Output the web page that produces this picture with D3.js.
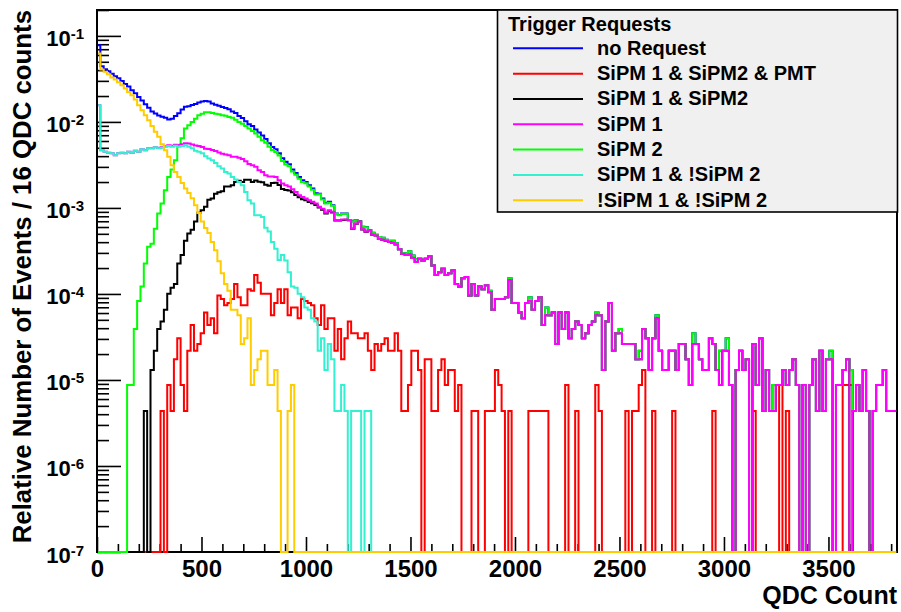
<!DOCTYPE html>
<html><head><meta charset="utf-8">
<script src="https://cdn.jsdelivr.net/npm/d3@7"></script>
<style>
body{margin:0;background:#fff}
svg{display:block}
text{font-family:"Liberation Sans",Arial,Helvetica,sans-serif;font-weight:bold;fill:#000}
</style>
</head><body>
<svg id="chart" width="901" height="612"></svg>
<script>
// ---- data: counts per 16-QDC bin, normalised by the total number of events ----
const binWidth = 16;
const nBins = 239;
const totalEvents = 229400;
const xTickValues = [0, 500, 1000, 1500, 2000, 2500, 3000, 3500];
const yTickExponents = [-1, -2, -3, -4, -5, -6, -7];
const legendTitle = "Trigger Requests";
const seriesLabels = ["no Request", "SiPM 1 & SiPM2 & PMT", "SiPM 1 & SiPM2", "SiPM 1", "SiPM 2", "SiPM 1 & !SiPM 2", "!SiPM 1 & !SiPM 2"];
const seriesColors = ["#0000ff", "#ff0000", "#000000", "#ff00ff", "#00ff00", "#33f0d0", "#ffcc00"];

const noRequest = [
17900,10200,9400,8900,8350,7800,7400,6850,6350,5900,
5350,4950,4480,4060,3680,3350,3030,2880,2720,2630,
2570,2450,2490,2690,2900,3200,3450,3500,3600,3700,
3870,3950,4010,3950,3760,3640,3530,3420,3340,3220,
3040,2910,2680,2540,2340,2160,2060,1870,1730,1590,
1450,1300,1175,1103,990,870,790,740,640,585,
525,481,460,421,385,340,335,295,262,270,
247,197,190,197,197,166,161,165,161,139,
138,127,118,112,105,103,98,95,95,89,
76,68,68,72,64,58,59,56,59,63,
49,38,41,45,38,40,43,30,28,35,
36,22,30,22,28,26,29,25,15,20,
20,20,21,35,18,18,14,12,18,21,
15,19,21,10,16,13,14,6,14,9,
14,7,9,11,10,7,8,10,11,14,
13,3,11,18,5,8,9,6,6,6,
6,4,5,9,7,3,7,13,5,3,
3,5,5,3,6,6,4,2,8,6,
4,3,3,7,6,3,5,5,7,2,
0,3,5,3,4,0,6,2,7,1,
3,1,2,2,2,3,2,3,4,2,
0,2,0,2,4,1,5,1,4,5,
0,2,2,3,4,3,1,2,1,3,
1,0,1,2,2,3,1,1,1];

const sipm12Pmt = [
0,0,0,0,0,0,0,0,0,0,
0,0,0,0,0,0,0,0,0,1,
0,2,1,4,7,2,1,5,10,5,
6,8,14,10,12,8,22,20,17,18,
20,30,21,17,17,26,25,38,31,23,
23,23,13,18,26,18,26,13,16,16,
12,20,19,18,17,12,10,17,9,12,
12,5,9,4,7,11,8,8,7,7,
8,5,3,6,5,6,7,5,5,8,
5,1,1,2,5,5,3,0,4,4,
1,1,3,4,2,3,3,1,2,0,
0,0,1,1,0,0,1,1,1,3,
2,1,0,1,0,0,0,0,0,1,
1,1,1,1,1,0,0,0,0,0,
2,0,0,1,0,0,0,0,0,2,
1,0,0,0,0,0,0,0,1,0,
1,1,2,3,0,0,1,0,0,0,
0,0,1,0,0,0,0,0,0,0,
0,0,0,0,1,0,0,0,0,0,
0,0,0,0,0,0,1,0,0,0,
0,0,0,0,2,0,1,0,0,0,
0,0,0,0,0,0,0,0,0,0,
0,0,0,2,2,2];

const sipm12 = [
0,0,0,0,0,0,0,0,0,0,
0,0,0,0,1,0,3,5,9,11,
15,23,27,30,52,65,95,116,128,160,
201,216,236,286,295,335,350,358,406,406,
421,460,475,460,487,487,460,478,462,455,
428,416,446,449,423,380,370,365,349,324,
305,290,281,268,260,248,232,218,198,210,
203,164,164,166,167,165,131,150,159,129,
121,125,112,110,100,98,95,92,90,86,
76,67,65,66,60,54,59,56,59,63,
49,38,41,45,38,40,43,30,28,35,
36,22,30,22,28,26,29,24,15,20,
20,20,21,33,18,18,14,12,18,19,
15,19,21,10,13,13,14,6,14,9,
14,7,9,11,10,7,8,10,11,13,
13,3,11,18,5,8,8,6,6,6,
6,4,4,9,7,3,7,12,5,3,
3,5,5,3,6,6,4,2,6,6,
4,3,3,7,6,3,2,5,5,2,
0,3,5,3,4,0,6,2,7,1,
3,1,1,2,2,3,2,3,4,2,
0,2,0,2,4,1,5,1,4,4,
0,2,2,3,4,0,1,2,1,3,
1,0,1,2,2,3,1,1,1];

const sipm1 = [
3586,1075,1030,1003,990,940,990,1003,990,1030,
1003,1063,1030,1103,1076,1133,1136,1168,1142,1161,
1198,1226,1210,1245,1235,1261,1300,1290,1255,1220,
1200,1175,1120,1110,1080,1050,1010,980,960,940,
905,900,880,850,800,745,719,690,629,600,
550,533,533,525,481,440,421,406,377,351,
322,308,295,282,270,258,236,225,201,216,
207,165,165,168,168,165,132,151,160,130,
122,126,112,110,100,98,95,92,90,86,
76,67,65,66,60,54,59,56,59,63,
49,38,41,45,38,40,43,30,28,35,
36,22,30,22,28,26,29,24,15,20,
20,20,21,33,18,18,14,12,18,19,
15,19,21,10,13,13,14,6,14,9,
14,7,9,11,10,7,8,10,11,13,
13,3,11,18,5,8,8,6,6,6,
6,4,4,9,7,3,7,12,5,3,
3,5,5,3,6,6,4,2,6,6,
4,3,3,7,6,3,2,5,5,2,
0,3,5,3,4,0,6,2,7,1,
3,1,1,2,2,3,2,3,4,2,
0,2,0,2,4,1,5,1,4,4,
0,2,2,3,4,0,1,2,1,3,
1,0,1,2,2,3,1,1,1];

const sipm2 = [
0,0,0,0,0,0,0,0,0,2,
2,9,19,28,52,81,88,131,197,258,
368,525,640,823,1229,1480,1925,2100,2290,2500,
2744,2860,2980,2980,2920,2860,2818,2744,2700,2620,
2570,2430,2290,2190,2050,1925,1800,1678,1537,1405,
1310,1176,1081,1023,932,805,734,698,610,558,
502,460,444,406,373,329,330,288,259,264,
243,196,189,195,196,166,160,164,160,139,
137,126,118,112,105,103,98,95,95,89,
76,68,68,72,64,58,59,56,59,63,
49,38,41,45,38,40,43,30,28,35,
36,22,30,22,28,26,29,25,15,20,
20,20,21,35,18,18,14,12,18,21,
15,19,21,10,16,13,14,6,14,9,
14,7,9,11,10,7,8,10,11,14,
13,3,11,18,5,8,9,6,6,6,
6,4,5,9,7,3,7,13,5,3,
3,5,5,3,6,6,4,2,8,6,
4,3,3,7,6,3,5,5,7,2,
0,3,5,3,4,0,6,2,7,1,
3,1,2,2,2,3,2,3,4,2,
0,2,0,2,4,1,5,1,4,5,
0,2,2,3,4,3,1,2,1,3,
1,0,1,2,2,3,1,1,1];

const sipm1Not2 = [
3586,1075,1030,1003,990,940,990,1003,990,1030,
1003,1063,1030,1103,1075,1133,1133,1163,1133,1150,
1183,1203,1183,1215,1183,1203,1229,1183,1133,1063,
1030,990,915,862,823,766,700,657,600,575,
525,490,460,421,351,282,258,189,189,180,
135,122,92,77,57,65,56,41,28,27,
23,21,16,15,12,11,5,7,3,6,
4,1,1,2,1,0,1,1,1,0,
1,1,0];

const not1Not2 = [
14320,9350,8760,8225,7530,7130,6640,6125,5600,5120,
4690,4180,3586,3137,2744,2400,2050,1760,1540,1260,
1075,900,719,600,525,448,385,342,297,247,
200,160,134,117,92,74,55,40,30,25,
15,15,13,6,7,12,2,3,4,5,
5,2,2,3,1,0,0,1,2];

// drawing order (first drawn lies underneath)
const drawOrder = [0, 1, 2, 4, 3, 5, 6];
const seriesData = [noRequest, sipm12Pmt, sipm12, sipm1, sipm2, sipm1Not2, not1Not2];

(function () {
  const svg = d3.select("#chart");
  const pL = 97, pR = 897, pT = 10, pB = 552;
  const x = d3.scaleLinear().domain([0, 3828]).range([pL, pR]);
  const y = d3.scaleLog().domain([1e-7, 0.2]).range([pB, pT]);

  svg.append("defs").append("clipPath").attr("id", "plotclip")
    .append("rect").attr("x", pL).attr("y", pT - 1)
    .attr("width", pR - pL + 1).attr("height", pB - pT + 2);

  // frame first (histograms are drawn over it, as in the original)
  svg.append("rect").attr("x", pL).attr("y", pT).attr("width", pR - pL).attr("height", pB - pT)
    .attr("fill", "none").attr("stroke", "#000").attr("stroke-width", 2);

  // x axis: major + minor ticks (inward)
  const xMinor = d3.range(0, 3829, 100).filter(v => v % 500 !== 0);
  const gxMinor = svg.append("g").attr("transform", `translate(0,${pB})`)
    .call(d3.axisBottom(x).tickValues(xMinor).tickSizeInner(-8).tickSizeOuter(0).tickFormat(""));
  const gx = svg.append("g").attr("transform", `translate(0,${pB})`)
    .call(d3.axisBottom(x).tickValues(xTickValues).tickSizeInner(-15).tickSizeOuter(0).tickPadding(8).tickFormat(d3.format("d")));
  [gx, gxMinor].forEach(g => { g.select(".domain").remove(); g.selectAll("line").attr("stroke", "#000").attr("stroke-width", 1.6); });
  gx.selectAll("text").attr("font-size", 24).attr("font-family", null).attr("font-weight", "bold").attr("fill", "#000");

  // y axis: major + minor ticks (inward)
  const yMajor = yTickExponents.map(e => Math.pow(10, e));
  const yMinor = [];
  for (let e = -7; e <= -1; e++) for (let m = 2; m <= 9; m++) { const v = m * Math.pow(10, e); if (v <= 0.2) yMinor.push(v); }
  const gyMinor = svg.append("g").attr("transform", `translate(${pL},0)`)
    .call(d3.axisLeft(y).tickValues(yMinor).tickSizeInner(-12).tickSizeOuter(0).tickFormat(""));
  const gy = svg.append("g").attr("transform", `translate(${pL},0)`)
    .call(d3.axisLeft(y).tickValues(yMajor).tickSizeInner(-24).tickSizeOuter(0).tickFormat(""));
  [gy, gyMinor].forEach(g => { g.select(".domain").remove(); g.selectAll("line").attr("stroke", "#000").attr("stroke-width", 1.6); });
  yTickExponents.forEach(e => {
    const t = svg.append("text").attr("x", 84).attr("y", y(Math.pow(10, e)) + 10.5).attr("text-anchor", "end");
    t.append("tspan").attr("font-size", 22).text("10");
    t.append("tspan").attr("font-size", 15).attr("dy", -7).text(String(e));
  });

  // histograms
  const plot = svg.append("g").attr("clip-path", "url(#plotclip)");
  drawOrder.forEach(si => {
    const arr = seriesData[si];
    let d = "";
    for (let i = 0; i < nBins; i++) {
      const c = i < arr.length ? arr[i] : 0;
      const yy = c > 0 ? y(c / totalEvents) : pB;
      const x0 = x(i * binWidth), x1 = x((i + 1) * binWidth);
      d += (i === 0 ? `M${x0 + 1},${yy}` : `V${yy}`) + `H${x1}`;
    }
    plot.append("path").attr("d", d).attr("fill", "none")
      .attr("stroke", seriesColors[si]).attr("stroke-width", 2);
  });

  // axis titles
  svg.append("text").attr("x", pR).attr("y", 604).attr("text-anchor", "end").attr("font-size", 25).text("QDC Count");
  svg.append("text").attr("transform", `translate(31,${pT}) rotate(-90)`).attr("text-anchor", "end")
    .attr("font-size", 25.8).text("Relative Number of Events / 16 QDC counts");

  // legend
  const lg = svg.append("g");
  lg.append("rect").attr("x", 497.5).attr("y", 10).attr("width", 400).attr("height", 202)
    .attr("fill", "#f0f0f0").attr("stroke", "#000").attr("stroke-width", 1.6);
  lg.append("text").attr("x", 508).attr("y", 30.5).attr("font-size", 20).text(legendTitle);
  seriesLabels.forEach((lab, i) => {
    const ly = 48.3 + i * 25.33;
    lg.append("line").attr("x1", 513).attr("x2", 583).attr("y1", ly).attr("y2", ly)
      .attr("stroke", seriesColors[i]).attr("stroke-width", 2);
    lg.append("text").attr("x", 597).attr("y", ly + 6.5).attr("font-size", 20).text(lab);
  });
})();
</script>
</body></html>
